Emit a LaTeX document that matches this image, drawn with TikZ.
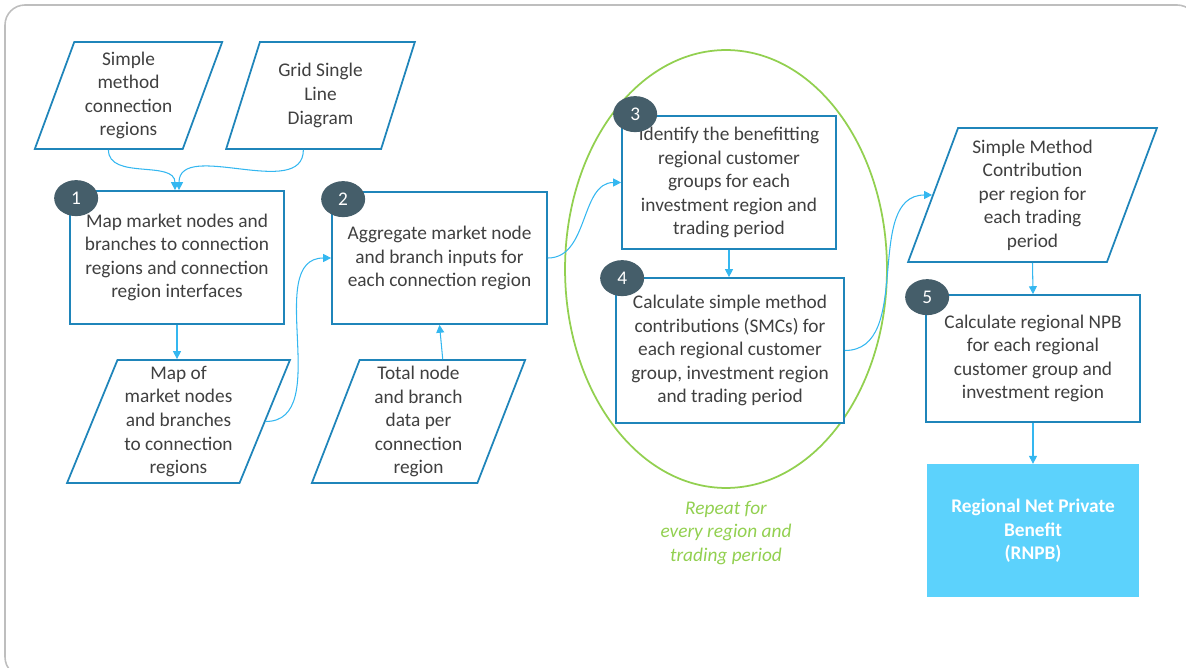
\documentclass[tikz,border=0pt]{standalone}
\usepackage{fontspec}
\setmainfont{Carlito}
\usetikzlibrary{arrows.meta,positioning,shapes.geometric}
\definecolor{framegray}{RGB}{190,190,190}
\definecolor{edgeblue}{RGB}{31,133,186}
\definecolor{linkblue}{RGB}{52,183,240}
\definecolor{slate}{RGB}{69,94,106}
\definecolor{loopgreen}{RGB}{146,208,80}
\definecolor{resultblue}{RGB}{92,210,252}
\definecolor{ink}{RGB}{64,64,64}

\begin{document}
\begin{tikzpicture}[x=0.02cm,y=-0.02cm,font=\fontsize{11}{13.4}\selectfont,text=ink,process/.style={rectangle,draw=edgeblue,fill=white,line width=1pt,align=center,minimum width=4.28cm,minimum height=2.66cm,inner sep=2pt},data/.style={trapezium,trapezium left angle=70,trapezium right angle=110,trapezium stretches=true,draw=edgeblue,fill=white,line width=1pt,align=center,inner sep=1pt},badge/.style={ellipse,fill=slate,text=white,minimum width=0.88cm,minimum height=0.72cm,inner sep=0pt},arrow/.style={-{Triangle[length=4.5pt,width=4.5pt]},draw=linkblue,line width=0.6pt}]
\useasboundingbox (0,0) rectangle (1186,668);
\draw[framegray,line width=0.9pt,rounded corners=0.4cm] (5,5) rectangle (1197,677);
% repeat loop
\node[ellipse,draw=loopgreen,line width=1pt,minimum width=6.44cm,minimum height=8.76cm,inner sep=0pt] (loop) at (726,269) {};
\node[below=0.12cm of loop,text=loopgreen,font=\fontsize{11}{13.4}\selectfont\itshape,align=center] (note) {Repeat for\\every region and\\trading period};
% inputs
\node[data,minimum width=3.78cm,minimum height=2.14cm] (in1) at (128.5,95.5) {Simple\\method\\connection\\regions};
\node[data,minimum width=3.78cm,minimum height=2.14cm] (in2) at (320.5,95.5) {Grid Single\\Line\\Diagram};
\node[data,trapezium left angle=68,trapezium right angle=112,minimum width=4.46cm,minimum height=2.46cm] (in3) at (178.5,421.5) {Map of\\market nodes\\and branches\\to connection\\regions};
\node[data,trapezium left angle=72,trapezium right angle=108,minimum width=4.3cm,minimum height=2.46cm] (in4) at (418.5,421.5) {Total node\\and branch\\data per\\connection\\region};
\node[data,minimum width=4.98cm,minimum height=2.68cm] (in5) at (1032.5,195) {Simple Method\\Contribution\\per region for\\each trading\\period};
% steps
\node[process] (box1) at (177,257.5) {Map market nodes and\\branches to connection\\regions and connection\\region interfaces};
\node[process,minimum width=4.3cm,minimum height=2.64cm] (box2) at (439.5,258) {Aggregate market node\\and branch inputs for\\each connection region};
\node[process] (box3) at (729,182.5) {Identify the benefitting\\regional customer\\groups for each\\investment region and\\trading period};
\node[process,minimum width=4.56cm,minimum height=2.9cm] (box4) at (730,350.5) {Calculate simple method\\contributions (SMCs) for\\each regional customer\\group, investment region\\and trading period};
\node[process,minimum height=2.54cm] (box5) at (1033,358.5) {Calculate regional NPB\\for each regional\\customer group and\\investment region};
\node[rectangle,fill=resultblue,text=white,font=\fontsize{11}{13.4}\selectfont\bfseries,align=center,minimum width=4.26cm,minimum height=2.66cm,below=0.82cm of box5] (rnpb) {Regional Net Private\\Benefit\\(RNPB)};
% connectors
\draw[arrow] (in1.bottom side) to[out=-90,in=90] ([xshift=-0.04cm]box1.north);
\draw[arrow] (in2.bottom side) to[out=-90,in=90] ([xshift=0.04cm]box1.north);
\draw[arrow] (box1.south) -- (box1.south |- in3.top side);
\draw[arrow] (in3.right side) to[out=0,in=180] (box2.west);
\draw[arrow] (in4.top side) -- (box2.south);
\draw[arrow] (box2.east) to[out=0,in=180] (box3.west);
\draw[arrow] (box3.south) -- (box3.south |- box4.north);
\draw[arrow] (box4.east) to[out=0,in=180] (in5.left side);
\draw[arrow] (in5.center |- in5.bottom side) -- (box5.north);
\draw[arrow] (box5.south) -- (rnpb.north);
% step numbers
\node[badge] (n1) at ([shift={(0.14cm,-0.16cm)}]box1.north west) {1};
\node[badge] (n2) at ([shift={(0.24cm,-0.16cm)}]box2.north west) {2};
\node[badge] (n3) at ([shift={(0.28cm,0.02cm)}]box3.north west) {3};
\node[badge] (n4) at ([shift={(0.14cm,-0.02cm)}]box4.north west) {4};
\node[badge] (n5) at ([shift={(0.04cm,-0.06cm)}]box5.north west) {5};
\end{tikzpicture}
\end{document}
